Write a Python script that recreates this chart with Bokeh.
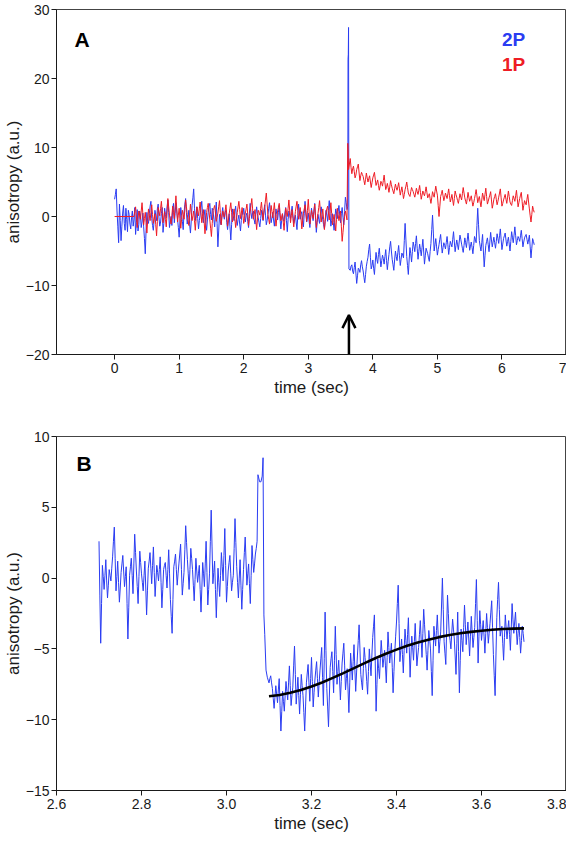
import numpy as np
from bokeh.plotting import figure
from bokeh.layouts import column
from bokeh.models import Range1d, FixedTicker, Label, Arrow, OpenHead, PrintfTickFormatter
from bokeh.embed import file_html
from bokeh.resources import INLINE

# ---------------- data: panel A ----------------
a_xticks = [0, 1, 2, 3, 4, 5, 6, 7]
a_yticks = [-20, -10, 0, 10, 20, 30]

# 2P (blue): readings every 0.025 s, plus the readings half-way between them
a_blue_pre_t0, a_blue_dt = 0.0, 0.025
a_blue_pre = [
    2.5, 4.0, -1.5, 1.8, -3.5, 0.5, -1.0, 1.2, -2.2, 0.3,
    -1.8, 0.8, -0.5, -2.6, 1.0, -1.2, 0.2, -0.8, -1.5, -5.4,
    0.6, -1.0, 1.5, -0.3, -2.0, 0.9, -0.6, 1.8, -1.4, 0.4,
    -2.3, 1.2, -0.2, 2.4, -1.6, 0.0, 1.1, -0.9, 2.0, -0.4,
    -3.0, 1.3, -0.7, 0.5, 2.6, -1.1, 0.9, -2.4, 1.6, 4.0,
    -0.6, 1.4, -1.8, 0.2, 2.2, -0.9, 1.0, -2.0, 0.6, 1.9,
    -0.5, 0.8, -1.5, 2.1, -4.4, 0.3, -1.2, 1.3, -0.4, 0.9,
    -1.9, 0.4, -3.4, 1.1, -0.6, 1.5, -1.3, 0.2, -2.1, 0.7,
    1.2, -0.8, 0.5, -1.6, 1.9, -0.3, 0.8, -1.1, 1.4, -0.2,
    -1.5, 0.9, -0.6, 1.7, -1.2, 0.3, 2.0, -0.9, 0.6, -1.4,
    1.1, -0.5, 1.6, -1.8, 0.4, -0.7, 1.3, -2.2, 0.8, -0.3,
    1.5, -1.0, 0.2, -1.9, 1.8, -0.4, 0.7, -1.5, 2.2, -0.8,
    0.5, -1.6, 1.2, -0.6, 1.9, -2.3, 0.3, -1.0, 1.4, -0.5,
    -1.8, 0.9, -0.7, 2.3, -1.4, 0.4, -2.0, 1.1, -0.3, 1.6,
    -0.9, 1.3, -1.2, 2.8, 1.0,
]
a_blue_pre_mid = [
    3.2, 0.8, -3.8, -0.6, -1.4, 1.6, -2.0, -0.4, 0.9, -1.1,
    -0.2, -1.4, 1.3, -0.9, -2.1, 0.8, -1.6, 0.5, -3.2, -2.0,
    -0.7, 0.4, 2.2, -1.3, -0.5, 0.2, 1.1, -0.2, -0.8, 1.3,
    -1.0, 0.3, 1.4, 0.6, -0.7, -1.3, 1.9, 0.4, 0.8, -1.6,
    -0.8, 0.2, -1.9, 1.7, 0.6, -0.2, -1.2, -0.6, 2.7, 1.2,
    0.5, -0.3, -0.6, 1.3, 0.4, 0.2, -1.1, -0.5, 1.4, 0.3,
    1.2, -0.4, 0.3, -1.0, -2.1, -0.8, 0.4, 0.2, 0.6, -0.9,
    -0.6, -1.5, -1.2, 0.1, 0.7, -0.2, -0.4, -1.1, -0.6, 0.3,
    0.2, 0.1, -0.7, 0.4, 0.6, 0.5, -0.5, 0.3, 0.4, -0.9,
    -0.3, 0.1, 0.8, 0.2, -0.6, 1.2, 0.5, -0.2, -0.5, -0.1,
    0.3, 0.6, -0.3, -0.6, -0.4, 0.5, -0.6, -0.4, 0.2, 0.7,
    0.2, -0.5, -0.8, 0.1, 0.6, 0.3, -0.5, 0.4, 0.6, -0.2,
    -0.7, -0.1, 0.3, 0.8, -0.4, -0.9, -0.4, 0.4, 0.3, -1.2,
    -0.5, 0.2, 0.9, 0.4, -0.6, -0.9, -0.3, 0.5, 0.7, 0.2,
    0.4, -0.1, 0.7, 2.0,
]
a_blue_spike_t = [3.612, 3.616, 3.620, 3.624, 3.630]
a_blue_spike_v = [1.5, 22.8, 23.5, 27.4, -7.6]
a_blue_post_t0 = 3.65
a_blue_post = [
    -7.8, -7.0, -8.3, -6.6, -9.7, -7.5, -8.1, -6.4, -7.9, -9.6,
    -7.2, -5.9, -4.0, -7.6, -6.3, -8.4, -5.2, -6.8, -4.6, -7.3,
    -5.6, -6.9, -4.8, -7.7, -5.5, -3.6, -6.2, -7.8, -5.0, -6.4,
    -4.2, -7.1, -5.3, -6.0, -1.0, -5.8, -8.4, -4.5, -6.6, -3.7,
    -5.1, -2.8, -6.2, -4.0, -5.7, -3.3, -6.9, -4.6, -5.4, -6.5,
    -3.9, 0.2, -5.0, -3.2, -5.6, -4.1, -2.6, -5.3, -3.8, -4.7,
    -2.9, -5.5, -3.6, -4.4, -2.2, -5.1, -3.4, -4.8, -2.7, -4.0,
    -5.2, -3.1, -4.5, -2.4, -4.9, -3.7, -5.4, -2.9, -3.8, 1.2,
    -3.5, -5.0, -2.6, -7.3, -4.2, -3.1, -5.1, -2.3, -4.4, -3.0,
    -4.6, -2.5, -3.9, -1.8, -4.8, -3.2, -2.4, -4.3, -3.0, -5.0,
    -2.2, -3.8, -1.5, -4.1, -2.9, -3.6, -2.0, -4.4, -3.1, -2.6,
    -4.0, -2.7, -6.0, -3.2, -4.1,
]
a_blue_post_mid = [
    -7.2, -7.9, -7.4, -8.2, -8.6, -7.7, -7.0, -7.3, -8.8, -8.4,
    -6.5, -4.8, -5.9, -7.1, -7.5, -6.6, -6.2, -5.5, -6.0, -6.4,
    -6.1, -5.8, -6.4, -6.5, -4.4, -5.0, -7.0, -6.3, -5.8, -5.2,
    -5.7, -6.2, -5.6, -3.5, -3.4, -7.1, -6.3, -5.4, -5.1, -4.3,
    -3.9, -4.6, -5.1, -4.8, -4.5, -5.0, -5.7, -5.0, -6.0, -5.1,
    -1.9, -2.4, -4.1, -4.4, -4.8, -3.3, -4.0, -4.5, -4.2, -3.8,
    -4.1, -4.5, -4.0, -3.3, -3.7, -4.2, -4.1, -3.7, -3.3, -4.6,
    -4.2, -3.8, -3.4, -3.6, -4.3, -4.5, -4.2, -3.3, -1.3, -1.2,
    -4.3, -3.8, -5.0, -5.7, -3.6, -4.1, -3.7, -3.4, -3.7, -3.8,
    -3.6, -3.2, -2.8, -3.3, -4.0, -2.8, -3.4, -3.6, -4.0, -3.6,
    -3.0, -2.7, -2.8, -3.5, -3.2, -2.8, -3.2, -3.7, -2.8, -3.3,
    -3.4, -4.4, -4.6, -3.6,
]

# 1P (red)
a_red_flat_t = [0.0, 0.3]
a_red_flat_v = [0.0, 0.0]
a_red_pre_t0, a_red_dt = 0.3, 0.025
a_red_pre = [
    0.0, 1.4, -1.6, 0.8, -0.4, 2.0, -1.2, 0.6, -2.4, 1.1,
    -0.6, 1.7, -1.0, 0.4, -2.8, 1.3, 0.1, 2.2, -0.9, 0.7,
    -1.5, 2.6, 0.2, -1.1, 1.5, -0.3, 3.0, -0.8, 1.2, -1.7,
    0.9, -0.4, 2.4, 0.3, -1.3, 1.8, -0.6, 0.8, -2.0, 1.4,
    0.1, 2.1, -0.9, 1.0, -2.5, 0.6, 1.9, -0.5, -2.9, 0.9,
    1.6, -0.7, 0.5, 2.3, -1.2, 0.8, -0.1, 1.7, -1.4, 0.4,
    2.0, -0.8, 1.1, -1.6, 0.6, 2.2, -0.3, 1.3, -1.0, 0.5,
    1.8, -1.3, 0.7, 2.6, -0.4, 1.0, -1.9, 0.9, 0.2, 2.1,
    -0.5, 1.4, 3.4, 0.3, -1.1, 1.6, -0.2, 2.0, -1.4, 0.8,
    1.9, -0.6, 0.4, -2.0, 1.2, 0.0, 2.4, -0.9, 1.0, -1.5,
    0.7, 2.2, -0.4, 1.3, -1.8, 0.5, 1.7, -0.7, 2.5, -1.1,
    0.9, -0.3, 1.8, -1.6, 0.4, 2.3, -0.8, 1.1, -1.9, 0.6,
    1.5, -0.5, 2.0, -1.2, 0.3, -2.1, 1.2, -0.6, 0.8, -3.6,
    -1.0, 0.8, -0.5,
]
a_red_pre_mid = [
    0.7, -0.1, -0.4, 0.2, 0.8, 0.4, -0.3, -0.9, -0.6, 0.2,
    0.6, 0.3, -0.3, -1.2, -0.7, 0.7, 1.2, 0.6, -0.1, -0.4,
    0.5, 1.4, -0.5, 0.2, 0.6, 1.4, 1.1, 0.2, -0.3, -0.4,
    0.3, 1.0, 1.4, -0.5, 0.2, 0.6, 0.1, -0.6, -0.3, 0.8,
    1.1, 0.6, 0.0, -0.8, -1.0, 1.3, 0.7, -1.7, -1.0, 1.2,
    0.5, -0.1, 1.4, 0.6, -0.2, 0.3, 0.8, 0.2, -0.5, 1.2,
    0.6, 0.2, -0.3, -0.5, 1.4, 1.0, 0.5, 0.2, -0.3, 1.1,
    0.3, -0.3, 1.6, 1.1, 0.3, -0.5, -0.5, 0.6, 1.2, 0.8,
    0.5, 2.4, 1.8, -0.4, 0.3, 0.7, 0.9, 0.3, -0.3, 1.3,
    0.6, -0.1, -0.8, -0.4, 0.6, 1.2, 0.8, 0.1, -0.3, -0.4,
    1.5, 0.9, 0.4, -0.2, -0.6, 1.1, 0.5, 0.9, 0.7, -0.1,
    0.3, 0.7, 0.1, -0.6, 1.3, 0.7, 0.2, -0.4, -0.7, 1.1,
    0.5, 0.7, 0.4, -0.4, -0.9, -0.4, 0.3, 0.1, -1.4, -2.3,
    0.0, 0.2,
]
a_red_jump_t = [3.612, 3.618, 3.624]
a_red_jump_v = [10.6, 9.5, 6.8]
a_red_post_t0 = 3.65
a_red_post = [
    8.4, 6.2, 7.3, 5.6, 6.8, 7.6, 5.2, 6.4, 5.8, 4.6,
    6.3, 5.0, 5.9, 4.2, 5.6, 6.4, 4.5, 5.3, 3.8, 5.1,
    4.4, 6.0, 3.9, 4.8, 3.5, 5.2, 4.1, 3.3, 4.7, 3.8,
    4.9, 3.1, 4.3, 2.6, 3.9, 5.0, 3.4, 2.9, 4.2, 3.6,
    2.8, 4.1, 3.2, 4.5, 2.5, 3.7, 3.0, 4.3, 2.7, 3.3,
    1.9, 3.6, 2.8, 4.4, 3.1, 0.0, 2.9, 3.8, 2.3, 3.4,
    2.6, 4.0, 2.1, 3.2, 1.6, 3.7, 2.8, 1.9, 3.3, 2.4,
    4.2, 2.7, 1.8, 3.5, 2.2, 3.0, 1.5, 2.6, 3.9, 2.0,
    2.9, 1.4, 3.4, 2.3, 4.1, 1.8, 2.7, 3.6, 1.2, 2.5,
    3.3, 1.7, 2.8, 4.0, 1.5, 2.4, 3.2, 1.9, 3.7, 2.1,
    1.6, 3.0, 2.2, 3.8, 1.4, 2.6, 3.5, 0.9, 2.3, 1.7,
    3.2, 1.1, -0.8, 1.5, 0.6,
]
a_red_post_mid = [
    7.1, 6.9, 6.5, 6.0, 7.2, 6.3, 5.9, 6.1, 5.2, 5.4,
    5.6, 5.5, 5.0, 4.9, 6.0, 5.4, 4.9, 4.5, 4.4, 4.8,
    5.2, 4.9, 4.3, 4.2, 4.3, 4.6, 3.7, 4.0, 4.2, 4.3,
    4.0, 3.7, 3.5, 3.2, 4.4, 4.2, 3.1, 3.6, 3.9, 3.2,
    3.4, 3.6, 3.8, 3.5, 3.1, 3.3, 3.6, 3.5, 3.0, 2.6,
    2.7, 3.2, 3.6, 3.7, 1.6, 1.4, 3.3, 3.0, 2.8, 3.0,
    3.3, 3.0, 2.6, 2.4, 2.6, 3.2, 2.3, 2.6, 2.8, 3.3,
    3.4, 2.2, 2.6, 2.8, 2.6, 2.2, 2.0, 3.2, 3.0, 2.5,
    2.1, 2.4, 2.8, 3.2, 2.9, 2.2, 3.1, 2.4, 1.8, 2.9,
    2.5, 2.2, 3.4, 2.7, 1.9, 2.8, 2.5, 2.8, 2.9, 1.8,
    2.3, 2.6, 3.0, 2.6, 2.0, 3.1, 2.2, 1.6, 2.0, 2.5,
    2.1, 0.1, 0.3, 1.0,
]

a_arrow_x = 3.63
a_arrow_y0, a_arrow_y1 = -20.0, -14.3

# ---------------- data: panel B ----------------
b_xticks = [2.6, 2.8, 3.0, 3.2, 3.4, 3.6, 3.8]
b_yticks = [-15, -10, -5, 0, 5, 10]

b_pre_t0, b_dt = 2.700, 0.004
b_pre = [
    2.6, -4.6, 0.9, -0.8, 1.3, -1.4, 0.6, -0.2, 1.5, 3.6,
    -0.9, 1.2, -1.7, 0.4, 1.6, -0.6, 0.8, -4.3, 0.2, 1.4,
    -1.1, 3.1, 0.5, -1.8, 1.9, 0.3, -0.9, 1.2, -2.6, 0.7,
    1.8, -0.4, 2.2, -1.3, 0.9, -0.2, 1.5, -2.1, 0.6, 1.1,
    -0.7, 2.0, -1.5, -3.9, 0.8, 1.7, -0.5, 1.0, 2.4, -1.2,
    0.4, 3.7, 1.3, -0.8, 2.1, 0.6, -1.6, 1.4, -0.3, 0.9,
    -2.4, 1.1, -0.6, 2.6, -1.9, 0.3, 4.8, -0.4, 1.2, -2.8,
    0.7, -1.3, 1.8, -0.2, 3.5, -1.7, 0.5, 1.6, -0.9, 0.2,
    4.2, 0.8, -1.4, 1.3, -2.2, 0.6, 2.9, -0.5, 1.0, -1.8,
    2.3, 0.4, 1.7, 2.6,
]
b_pre_mid = [
    -1.2, -1.8, 0.1, 0.2, -0.2, -0.5, 0.2, 0.7, 2.6, 1.4,
    0.1, -0.3, -0.7, 1.0, 0.5, 0.1, -1.8, -2.1, 0.8, 0.2,
    1.0, 1.8, -0.6, 0.1, 1.1, -0.3, 0.2, -0.7, -0.9, 1.2,
    0.7, 0.9, 0.4, -0.2, 0.4, 0.6, -0.3, -0.8, 0.9, 0.2,
    0.6, 0.3, -2.7, -1.5, 1.2, 0.6, 0.3, 1.7, 0.6, -0.4,
    2.0, 2.5, 0.3, 0.6, 1.4, -0.5, -0.1, 0.5, 0.3, -0.8,
    -0.7, 0.3, 1.0, 0.4, -0.8, 2.6, 2.2, 0.4, -0.8, -1.0,
    -0.3, 0.2, 0.8, 1.6, 0.9, -0.6, 1.1, 0.3, -0.3, 2.1,
    2.5, -0.3, 0.0, -0.5, -0.8, 1.8, 1.2, 0.3, -0.4, 0.2,
    1.3, 1.0, 2.1,
]
b_spike_t = [3.074, 3.078, 3.081, 3.084, 3.086, 3.088, 3.090, 3.093]
b_spike_v = [7.3, 6.8, 6.8, 7.2, 8.5, -2.6, -4.0, -6.5]
b_post_t0 = 3.096
b_post = [
    -7.0, -7.4, -6.9, -7.8, -9.2, -7.6, -8.8, -7.1, -10.8, -8.0,
    -9.4, -7.3, -8.6, -6.2, -9.0, -7.7, -4.8, -8.9, -7.0, -9.6,
    -6.8, -8.3, -10.8, -7.4, -6.1, -8.7, -5.6, -9.1, -7.2, -5.9,
    -8.4, -6.5, -4.9, -9.0, -2.4, -7.8, -10.5, -6.3, -5.2, -8.1,
    -3.4, -7.5, -5.8, -8.6, -6.0, -4.6, -7.9, -6.4, -9.5, -5.3,
    -7.2, -4.7, -8.0, -5.5, -3.3, -6.8, -7.9, -4.9, -6.4, -8.2,
    -5.0, -6.9, -4.2, -2.6, -9.4, -5.7, -7.1, -4.4, -6.3, -5.1,
    -7.4, -3.8, -6.0, -4.6, -8.1, -5.2, -3.1, -0.5, -5.9, -4.3,
    -6.7, -3.6, -5.3, -2.8, -7.0, -4.1, -5.8, -3.2, -6.2, -4.9,
    -3.0, -5.6, -2.2, -4.4, -6.5, -3.7, -5.0, -8.3, -3.4, -4.8,
    -2.6, -5.3, -3.8, 0.0, -4.5, -6.1, -1.2, -3.9, -5.0, -2.9,
    -4.3, -6.8, -2.4, -8.1, -3.6, -5.2, -1.9, -4.7, -3.1, -5.5,
    -2.7, -4.9, -3.5, -0.1, -6.0, -2.3, -4.4, -3.0, -5.3, -2.5,
    -4.6, -3.2, -1.6, -5.4, -8.3, -2.8, -0.3, -4.1, -3.4, -5.8,
    -2.6, -4.3, -3.0, -5.1, -1.8, -3.9, -2.4, -4.7, -3.2, -5.3,
    -3.4, -4.5,
]
b_post_mid = [
    -7.2, -7.1, -7.4, -8.5, -8.4, -8.2, -7.9, -9.0, -9.4, -8.7,
    -8.3, -8.0, -7.4, -7.6, -8.3, -6.2, -6.8, -8.0, -8.3, -8.2,
    -7.6, -9.5, -9.1, -6.7, -7.4, -7.1, -7.3, -8.1, -6.5, -7.1,
    -7.4, -5.7, -7.0, -5.7, -5.1, -9.1, -8.4, -5.7, -6.6, -5.8,
    -5.4, -6.6, -7.2, -7.3, -5.3, -6.2, -7.1, -7.9, -7.4, -6.2,
    -5.9, -6.4, -6.7, -4.4, -5.0, -7.4, -6.4, -5.6, -7.3, -6.6,
    -6.0, -5.5, -3.4, -6.0, -7.5, -6.4, -5.7, -5.3, -5.7, -6.2,
    -5.6, -4.9, -5.3, -6.3, -6.6, -4.1, -1.8, -3.2, -5.1, -5.4,
    -5.1, -4.4, -4.0, -4.9, -5.5, -4.9, -4.5, -4.7, -5.5, -4.0,
    -4.3, -3.9, -3.3, -5.4, -5.1, -4.3, -6.6, -5.8, -4.1, -3.7,
    -4.0, -4.5, -1.9, -2.2, -5.3, -3.6, -2.5, -4.4, -3.9, -3.6,
    -5.5, -4.6, -5.2, -5.8, -4.4, -3.5, -3.3, -3.9, -4.3, -4.1,
    -3.8, -4.2, -1.8, -3.0, -4.1, -3.3, -3.7, -4.1, -3.9, -3.5,
    -3.9, -2.4, -3.5, -6.9, -5.5, -1.5, -2.2, -3.7, -4.6, -4.2,
    -3.5, -3.6, -4.0, -3.5, -2.9, -3.1, -3.6, -3.9, -4.2, -4.4,
    -3.9,
]
fit_t = [3.100, 3.125, 3.150, 3.175, 3.200, 3.225, 3.250, 3.275, 3.300,
         3.325, 3.350, 3.375, 3.400, 3.425, 3.450, 3.475, 3.500, 3.525,
         3.550, 3.575, 3.600, 3.625, 3.650, 3.675, 3.700]
fit_v = [-8.35, -8.25, -8.10, -7.90, -7.65, -7.37, -7.05, -6.71, -6.36,
         -6.00, -5.66, -5.34, -5.05, -4.78, -4.55, -4.35, -4.17, -4.02,
         -3.90, -3.80, -3.72, -3.65, -3.60, -3.57, -3.55]

# ---------------- helpers ----------------
FONT = "Liberation Sans"
BLUE = "#2a3cf2"
RED = "#ee1c25"
INK = "#1a1a1a"


def series(t0, dt, main, mid):
    """Merge readings on the grid with the readings half-way between them."""
    ts, vs = [], []
    for i, v in enumerate(main):
        ts.append(round(t0 + dt * i, 5))
        vs.append(v)
        if i < len(mid):
            ts.append(round(t0 + dt * (i + 0.5), 5))
            vs.append(mid[i])
    return ts, vs


def style(p, xticks, yticks, xfmt=None):
    p.xaxis.ticker = FixedTicker(ticks=xticks)
    p.yaxis.ticker = FixedTicker(ticks=yticks)
    if xfmt is not None:
        p.xaxis.formatter = xfmt
    for ax in (p.xaxis[0], p.yaxis[0]):
        ax.major_tick_out = 5
        ax.major_tick_in = 0
        ax.minor_tick_line_color = None
        ax.axis_line_color = INK
        ax.major_tick_line_color = INK
        ax.major_label_text_font = FONT
        ax.major_label_text_font_size = "14px"
        ax.major_label_text_color = INK
        ax.axis_label_text_font = FONT
        ax.axis_label_text_font_size = "17px"
        ax.axis_label_text_font_style = "normal"
        ax.axis_label_text_color = INK
    p.xaxis.major_label_standoff = 3
    p.xaxis.axis_label_standoff = 2
    p.yaxis.major_label_standoff = 2
    p.yaxis.axis_label_standoff = 0
    p.xgrid.visible = False
    p.ygrid.visible = False
    p.outline_line_color = "#444444"
    p.outline_line_width = 1
    p.background_fill_color = "white"
    p.border_fill_color = "white"


# ---------------- panel A ----------------
pa = figure(width=566, height=410, output_backend="svg", toolbar_location=None,
            x_range=Range1d(-0.9, 7), y_range=Range1d(-20, 30),
            min_border_left=46, min_border_right=0, min_border_top=9, min_border_bottom=56,
            x_axis_label="time (sec)", y_axis_label="anisotropy (a.u.)")
style(pa, a_xticks, a_yticks)

t1, v1 = series(a_blue_pre_t0, a_blue_dt, a_blue_pre, a_blue_pre_mid)
t2, v2 = series(a_blue_post_t0, a_blue_dt, a_blue_post, a_blue_post_mid)
pa.line(t1 + a_blue_spike_t + t2, v1 + a_blue_spike_v + v2, line_color=BLUE, line_width=1)

t3, v3 = series(a_red_pre_t0, a_red_dt, a_red_pre, a_red_pre_mid)
t4, v4 = series(a_red_post_t0, a_red_dt, a_red_post, a_red_post_mid)
pa.line(a_red_flat_t + t3[1:] + a_red_jump_t + t4, a_red_flat_v + v3[1:] + a_red_jump_v + v4,
        line_color=RED, line_width=1)

pa.add_layout(Arrow(end=OpenHead(size=13, line_width=2.5, line_color="black"),
                    x_start=a_arrow_x, y_start=a_arrow_y0, x_end=a_arrow_x, y_end=a_arrow_y1,
                    line_width=2.5, line_color="black"))
pa.add_layout(Label(x=-0.62, y=25.6, text="A", text_font=FONT, text_font_size="21px",
                    text_font_style="bold", text_baseline="middle", text_color="black"))
pa.add_layout(Label(x=6.0, y=25.6, text="2P", text_font=FONT, text_font_size="19px",
                    text_font_style="bold", text_baseline="middle", text_color=BLUE))
pa.add_layout(Label(x=6.0, y=22.0, text="1P", text_font=FONT, text_font_size="19px",
                    text_font_style="bold", text_baseline="middle", text_color=RED))

# ---------------- panel B ----------------
pb = figure(width=566, height=425, output_backend="svg", toolbar_location=None,
            x_range=Range1d(2.6, 3.8), y_range=Range1d(-15, 10),
            min_border_left=46, min_border_right=0, min_border_top=26, min_border_bottom=45,
            x_axis_label="time (sec)", y_axis_label="anisotropy (a.u.)")
style(pb, b_xticks, b_yticks, PrintfTickFormatter(format="%.1f"))

t5, v5 = series(b_pre_t0, b_dt, b_pre, b_pre_mid)
t6, v6 = series(b_post_t0, b_dt, b_post, b_post_mid)
pb.line(t5 + b_spike_t + t6, v5 + b_spike_v + v6, line_color=BLUE, line_width=1)
pb.line(fit_t, fit_v, line_color="black", line_width=2.6)
pb.add_layout(Label(x=2.647, y=8.1, text="B", text_font=FONT, text_font_size="21px",
                    text_font_style="bold", text_baseline="middle", text_color="black"))

layout = column(pa, pb, spacing=0)
open("out.html", "w").write(file_html(layout, INLINE))
